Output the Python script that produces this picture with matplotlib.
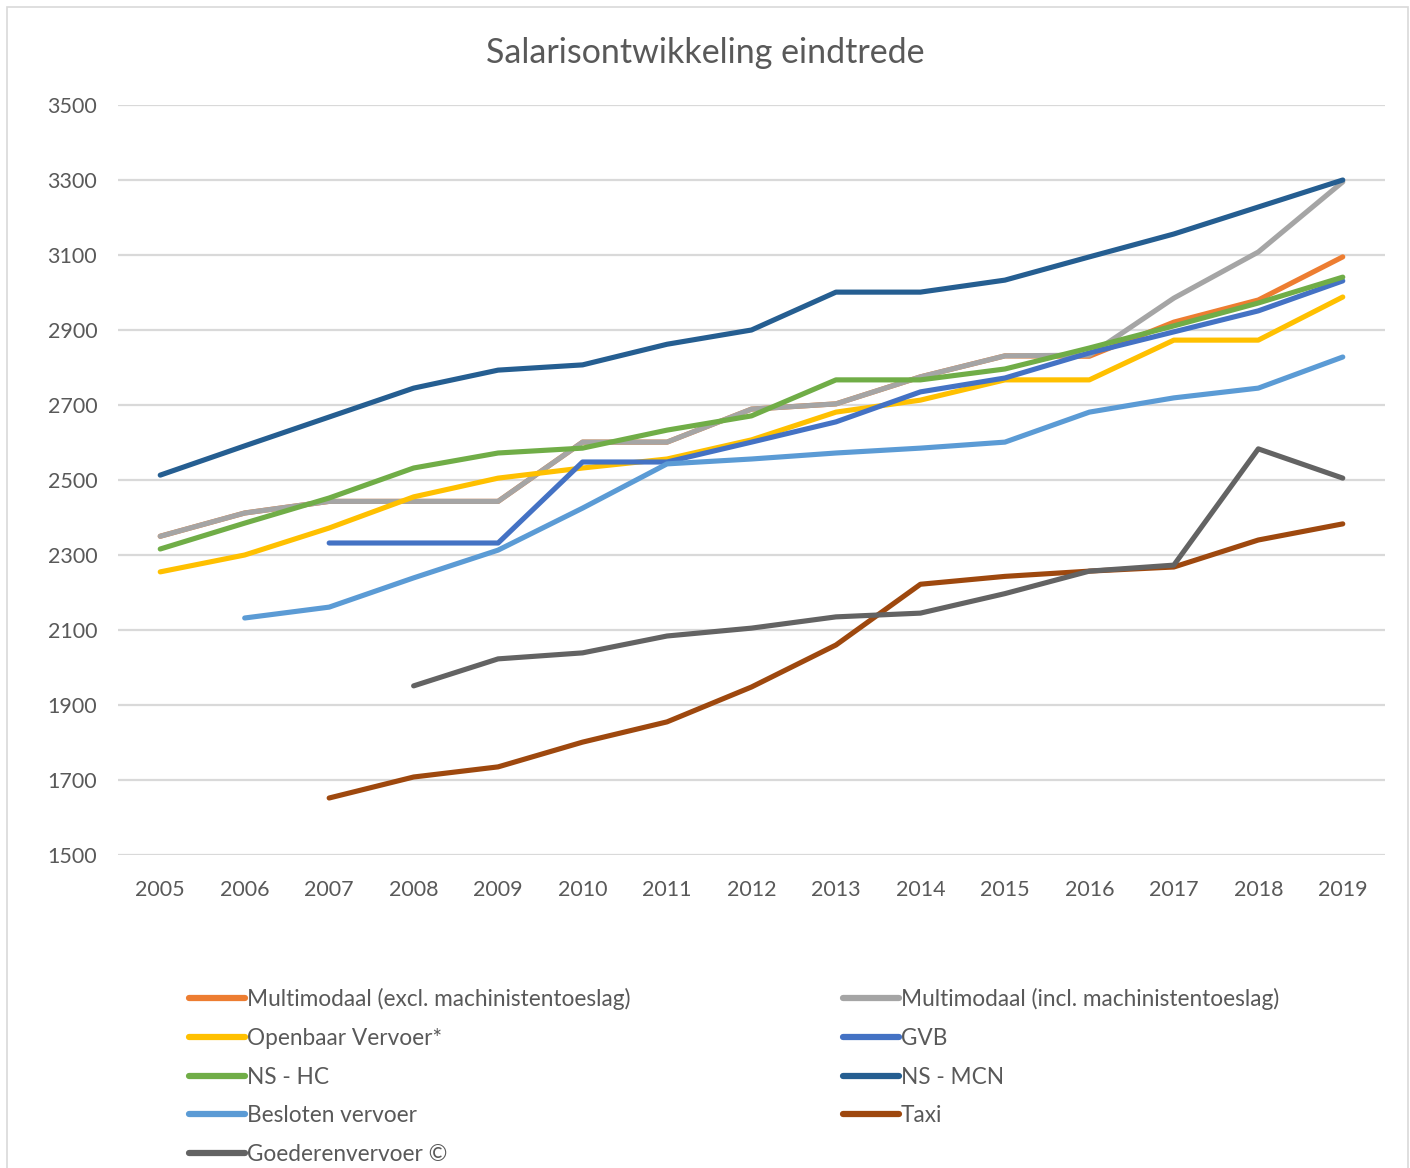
import numpy as np
import matplotlib
matplotlib.use("Agg")
import matplotlib.pyplot as plt
from matplotlib.patches import Rectangle

plt.rcParams['font.family'] = ['Lato', 'DejaVu Sans']

# jaren en eindsalarissen per sector (None = geen gegevens)
jaren = list(range(2005, 2020))

multimodaal_excl = [2350, 2412, 2443, 2443, 2443, 2601, 2601, 2689, 2703, 2775, 2831, 2830, 2921, 2980, 3095]
multimodaal_incl = [2350, 2412, 2443, 2443, 2443, 2601, 2601, 2689, 2703, 2775, 2831, 2833, 2985, 3108, 3295]
openbaar_vervoer = [2255, 2300, 2372, 2455, 2505, 2532, 2556, 2607, 2681, 2713, 2767, 2767, 2873, 2873, 2988]
gvb = [None, None, 2332, 2332, 2332, 2548, 2548, 2601, 2655, 2735, 2772, 2839, 2895, 2951, 3031]
ns_hc = [2316, 2385, 2452, 2532, 2572, 2585, 2633, 2671, 2767, 2767, 2796, 2852, 2911, 2972, 3041]
ns_mcn = [2513, 2591, 2668, 2745, 2793, 2807, 2862, 2900, 3001, 3001, 3033, 3095, 3156, 3228, 3300]
besloten_vervoer = [None, 2132, 2161, 2239, 2313, 2425, 2543, 2556, 2572, 2585, 2601, 2681, 2719, 2745, 2828]
taxi = [None, None, 1652, 1708, 1735, 1801, 1855, 1948, 2060, 2222, 2243, 2257, 2268, 2340, 2383]
goederenvervoer = [None, None, None, 1951, 2023, 2039, 2084, 2105, 2135, 2145, 2197, 2257, 2273, 2583, 2505]

reeksen = [
    ("Multimodaal (excl. machinistentoeslag)", multimodaal_excl, "#ED7D31"),
    ("Multimodaal (incl. machinistentoeslag)", multimodaal_incl, "#A5A5A5"),
    ("Openbaar Vervoer*", openbaar_vervoer, "#FFC000"),
    ("GVB", gvb, "#4472C4"),
    ("NS - HC", ns_hc, "#70AD47"),
    ("NS - MCN", ns_mcn, "#255E91"),
    ("Besloten vervoer", besloten_vervoer, "#5B9BD5"),
    ("Taxi", taxi, "#9E480E"),
    ("Goederenvervoer \u00a9", goederenvervoer, "#636363"),
]

tekstkleur = "#595959"

fig = plt.figure(figsize=(14.1, 11.68), dpi=100)
ax = fig.add_axes([118 / 1410, 1 - 855 / 1168, (1385 - 118) / 1410, (855 - 105) / 1168])

lijnen = {}
for naam, waarden, kleur in reeksen:
    y = np.array([np.nan if v is None else v for v in waarden], dtype=float)
    l, = ax.plot(jaren, y, color=kleur, lw=3.7, solid_capstyle='round',
                 solid_joinstyle='round', label=naam)
    lijnen[naam] = l

ax.set_xlim(2004.5, 2019.5)
ax.set_ylim(1500, 3500)
ax.set_xticks(jaren)
ax.set_yticks(range(1500, 3501, 200))
ax.grid(axis='y', color='#D9D9D9', lw=1.6)
ax.set_axisbelow(True)
for s in ax.spines.values():
    s.set_visible(False)
ax.tick_params(length=0, labelsize=15.5, labelcolor=tekstkleur)
ax.tick_params(axis='y', pad=15)
ax.tick_params(axis='x', pad=18)

fig.text(0.5, 1 - 53 / 1168, "Salarisontwikkeling eindtrede", ha='center', va='center',
         fontsize=24.5, color=tekstkleur)

# legenda: rijgewijs in twee kolommen zoals in Excel
volgorde = [0, 2, 4, 6, 8, 1, 3, 5, 7]
handles = [lijnen[reeksen[i][0]] for i in volgorde]
labels = [reeksen[i][0] for i in volgorde]
leg = fig.legend(handles, labels, ncol=2, loc='upper left',
                 bbox_to_anchor=(178 / 1410, 1 - 977 / 1168), frameon=False,
                 fontsize=16.3, handlelength=2.45, handletextpad=0.1,
                 columnspacing=9.4, labelspacing=0.78, borderpad=0)
for t in leg.get_texts():
    t.set_color(tekstkleur)
for h in leg.legend_handles:
    h.set_linewidth(4.5)

fig.patches.append(Rectangle((7 / 1410, -0.01), 1401 / 1410, 1 - 7 / 1168 + 0.01,
                             transform=fig.transFigure, fill=False,
                             edgecolor='#D9D9D9', lw=1.2))

fig.savefig("out.png", dpi=100, facecolor='white')
